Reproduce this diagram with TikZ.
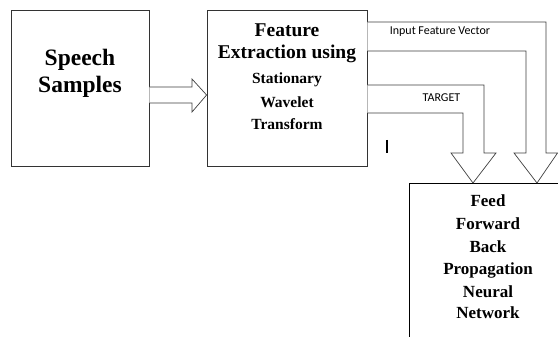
\documentclass[tikz,border=0pt]{standalone}
\usepackage{fontspec}
\setmainfont{Liberation Serif}
\newfontfamily\lblfont{Carlito}
\begin{document}
\begin{tikzpicture}[x=1pt,y=-1pt,
  box/.style={draw=black!80,line width=0.8pt,rectangle,inner sep=0pt},
  big/.style={font=\bfseries\fontsize{23.5}{27}\selectfont,inner sep=0pt},
  mid/.style={font=\bfseries\fontsize{19.5}{23}\selectfont,inner sep=0pt},
  small/.style={font=\bfseries\fontsize{15.5}{19}\selectfont,inner sep=0pt},
  nnf/.style={font=\bfseries\fontsize{17}{20}\selectfont,inner sep=0pt},
  lbl/.style={font=\lblfont\fontsize{12}{14}\selectfont,inner sep=0pt},
  blk/.style={draw=black!75,line width=0.7pt,fill=white,line join=miter}]
\clip (0,0) rectangle (558,337);
\fill[white] (0,0) rectangle (558,337);
% boxes
\node[box,minimum width=138pt,minimum height=156pt] (sp) at (80,88) {};
\node[box,minimum width=160pt,minimum height=156pt] (fe) at (287,88) {};
\node[box,draw=black,minimum width=158pt,minimum height=162pt] (nn) at (488,264) {};
% texts
\node[big] (s1) at (80,60) {Speech};
\node[big] (s2) at (80,87) {Samples};
\node[mid] (f1) at (287,30) {Feature};
\node[mid] (f2) at (287,54) {Extraction using};
\node[small] (f3) at (287,80) {Stationary};
\node[small] (f4) at (287,102) {Wavelet};
\node[small] (f5) at (287,124) {Transform};
\node[nnf] (n1) at (488,201) {Feed};
\node[nnf] (n2) at (488,224) {Forward};
\node[nnf] (n3) at (488,247) {Back};
\node[nnf] (n4) at (488,270) {Propagation};
\node[nnf] (n5) at (488,292) {Neural};
\node[nnf] (n6) at (488,313) {Network};
% block arrow speech -> feature
\draw[blk] (sp.east |- 0,87) -- (192,87) -- (192,79) -- (fe.west |- 0,95) -- (192,112) -- (192,103) -- (sp.east |- 0,103);
% input feature vector arrow
\draw[blk] (fe.east |- 0,22) -- (546,22) -- (546,153) -- (557.5,153) -- (537,183) -- (514,153) -- (526,153) -- (526,51) -- (fe.east |- 0,51);
% target arrow
\draw[blk] (fe.east |- 0,85) -- (484,85) -- (484,153) -- (496,153) -- (473,183) -- (451,153) -- (463,153) -- (463,113) -- (fe.east |- 0,113);
% labels
\node[lbl] (l1) at (440,32) {Input Feature Vector};
\node[lbl] (l2) at (441.5,98) {TARGET};
% cursor mark
\draw[line width=1.2pt] (387,140) -- (387,153);
\end{tikzpicture}
\end{document}
